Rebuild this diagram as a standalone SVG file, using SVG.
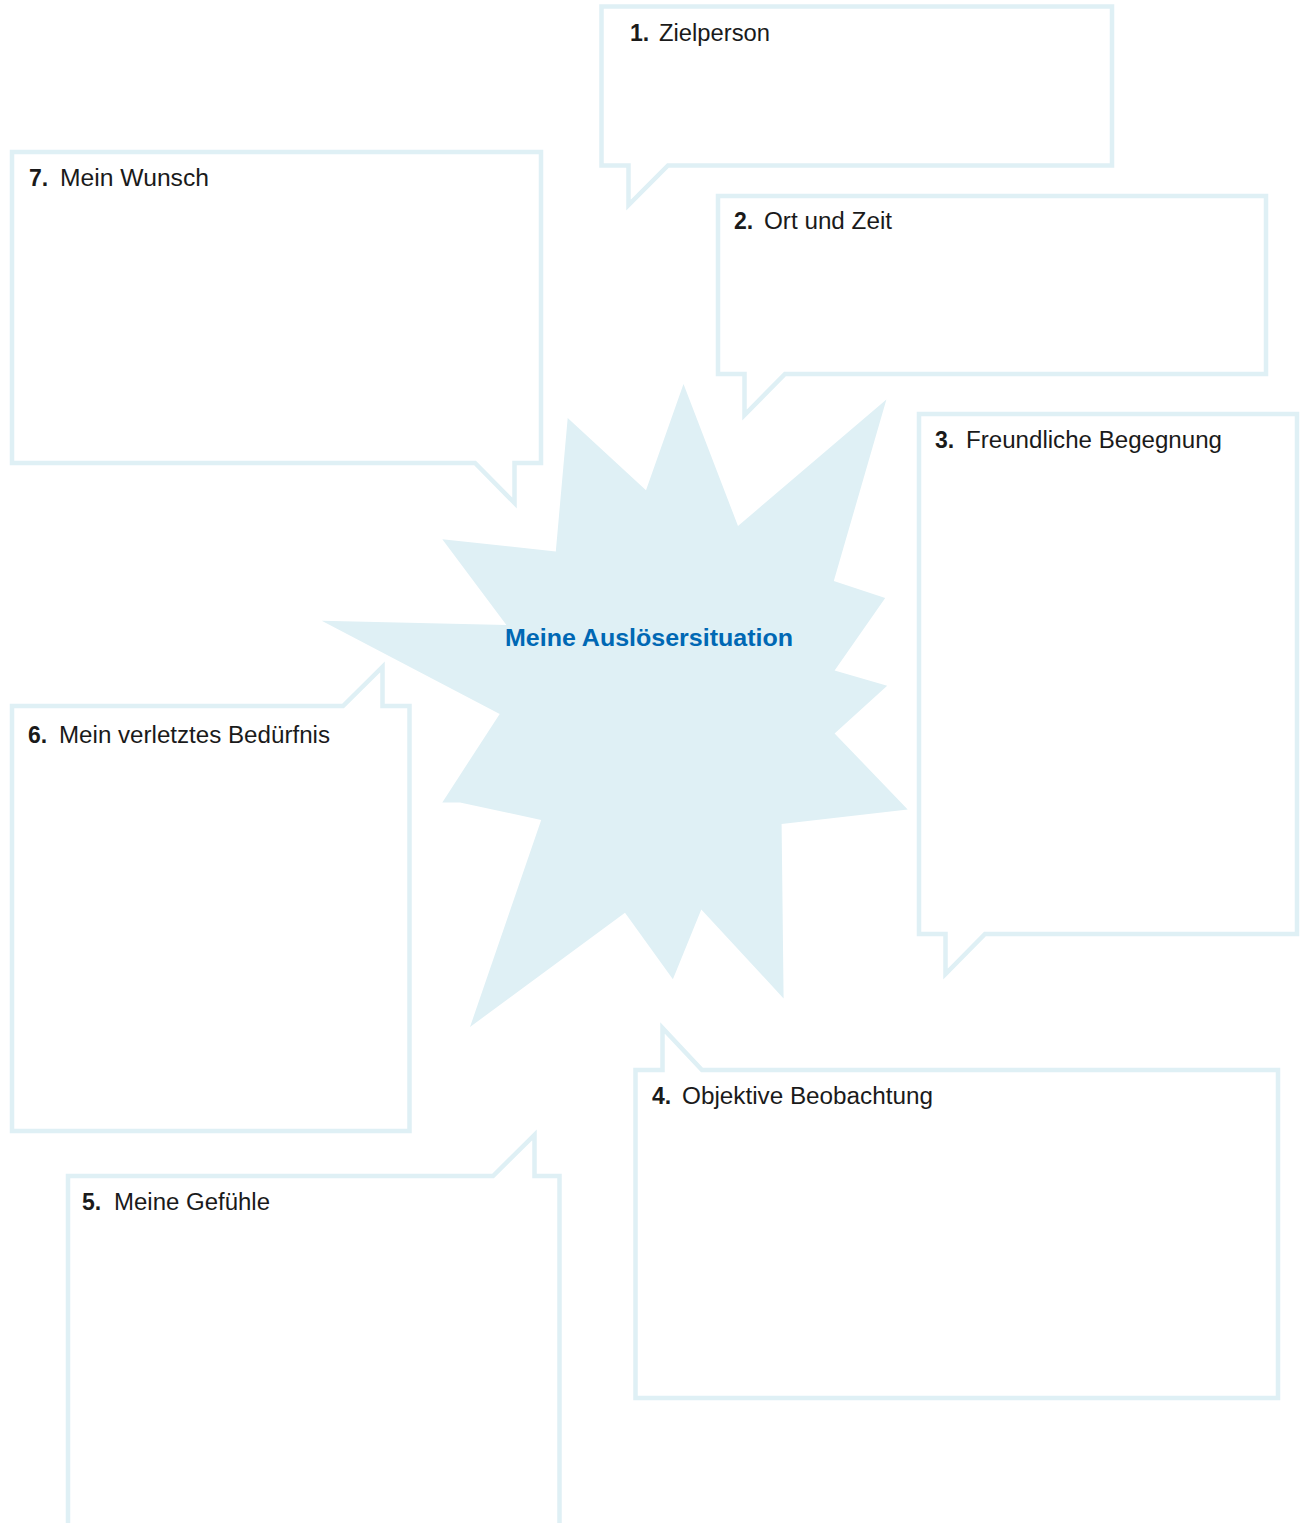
<svg xmlns="http://www.w3.org/2000/svg" width="1303" height="1523" viewBox="0 0 1303 1523">
<style>
.bub{fill:none;stroke:#dff0f5;stroke-width:4.5;stroke-linejoin:miter;stroke-miterlimit:10}
.lbl{font-family:"Liberation Sans",Arial,sans-serif;font-size:23px;fill:#1a1a1a}
.num{font-weight:bold}
.title{font-family:"Liberation Sans",Arial,sans-serif;font-size:24.5px;font-weight:bold;fill:#0068b4}
</style>
<rect width="1303" height="1523" fill="#ffffff"/>
<g id="center">
<polygon fill="#dff0f5" points="683.5,384 738,526 886.4,399.6 833.8,581 885.2,598 834.6,670.6 887.2,685.7 834.6,733.5 907.7,809.4 781.6,824 783.6,998.4 701.3,909.4 672.9,979.2 625,912.7 470,1027 541.2,820 460,802.4 442.3,802.4 499.7,713.9 321.7,620.8 506.4,624.9 442.3,539.2 555.8,551.4 567.7,418 646,490.2"/>
<text class="title" x="505" y="646" textLength="288" lengthAdjust="spacingAndGlyphs">Meine Auslösersituation</text>
</g>
<g id="node1">
<path class="bub" d="M601.5,6.5 H1112 V165.5 H668 L628.5,205 V165.5 H601.5 Z"/>
<text class="lbl" x="630" y="41"><tspan class="num">1.</tspan><tspan x="659" textLength="111" lengthAdjust="spacingAndGlyphs">Zielperson</tspan></text>
</g>
<g id="node2">
<path class="bub" d="M718,196 H1266 V374 H785 L744.5,415 V374 H718 Z"/>
<text class="lbl" x="734" y="229"><tspan class="num">2.</tspan><tspan x="764" textLength="128" lengthAdjust="spacingAndGlyphs">Ort und Zeit</tspan></text>
</g>
<g id="node3">
<path class="bub" d="M919,414 H1297 V934 H985 L945.5,974 V934 H919 Z"/>
<text class="lbl" x="935" y="448"><tspan class="num">3.</tspan><tspan x="966" textLength="256" lengthAdjust="spacingAndGlyphs">Freundliche Begegnung</tspan></text>
</g>
<g id="node4">
<path class="bub" d="M635.5,1070 H662.5 V1028 L702,1070 H1278 V1398 H635.5 Z"/>
<text class="lbl" x="652" y="1104"><tspan class="num">4.</tspan><tspan x="682" textLength="251" lengthAdjust="spacingAndGlyphs">Objektive Beobachtung</tspan></text>
</g>
<g id="node5">
<path class="bub" d="M68,1176 H493 L534.5,1135 V1176 H559.5 V1545 H68 Z"/>
<text class="lbl" x="82" y="1210"><tspan class="num">5.</tspan><tspan x="114" textLength="156" lengthAdjust="spacingAndGlyphs">Meine Gefühle</tspan></text>
</g>
<g id="node6">
<path class="bub" d="M12,706 H343 L382.5,667 V706 H409.5 V1131 H12 Z"/>
<text class="lbl" x="28" y="743"><tspan class="num">6.</tspan><tspan x="59" textLength="271" lengthAdjust="spacingAndGlyphs">Mein verletztes Bedürfnis</tspan></text>
</g>
<g id="node7">
<path class="bub" d="M12,152 H541 V463 H514.5 V503 L475,463 H12 Z"/>
<text class="lbl" x="29" y="186"><tspan class="num">7.</tspan><tspan x="60" textLength="149" lengthAdjust="spacingAndGlyphs">Mein Wunsch</tspan></text>
</g>
<g id="connectors"></g>
</svg>
